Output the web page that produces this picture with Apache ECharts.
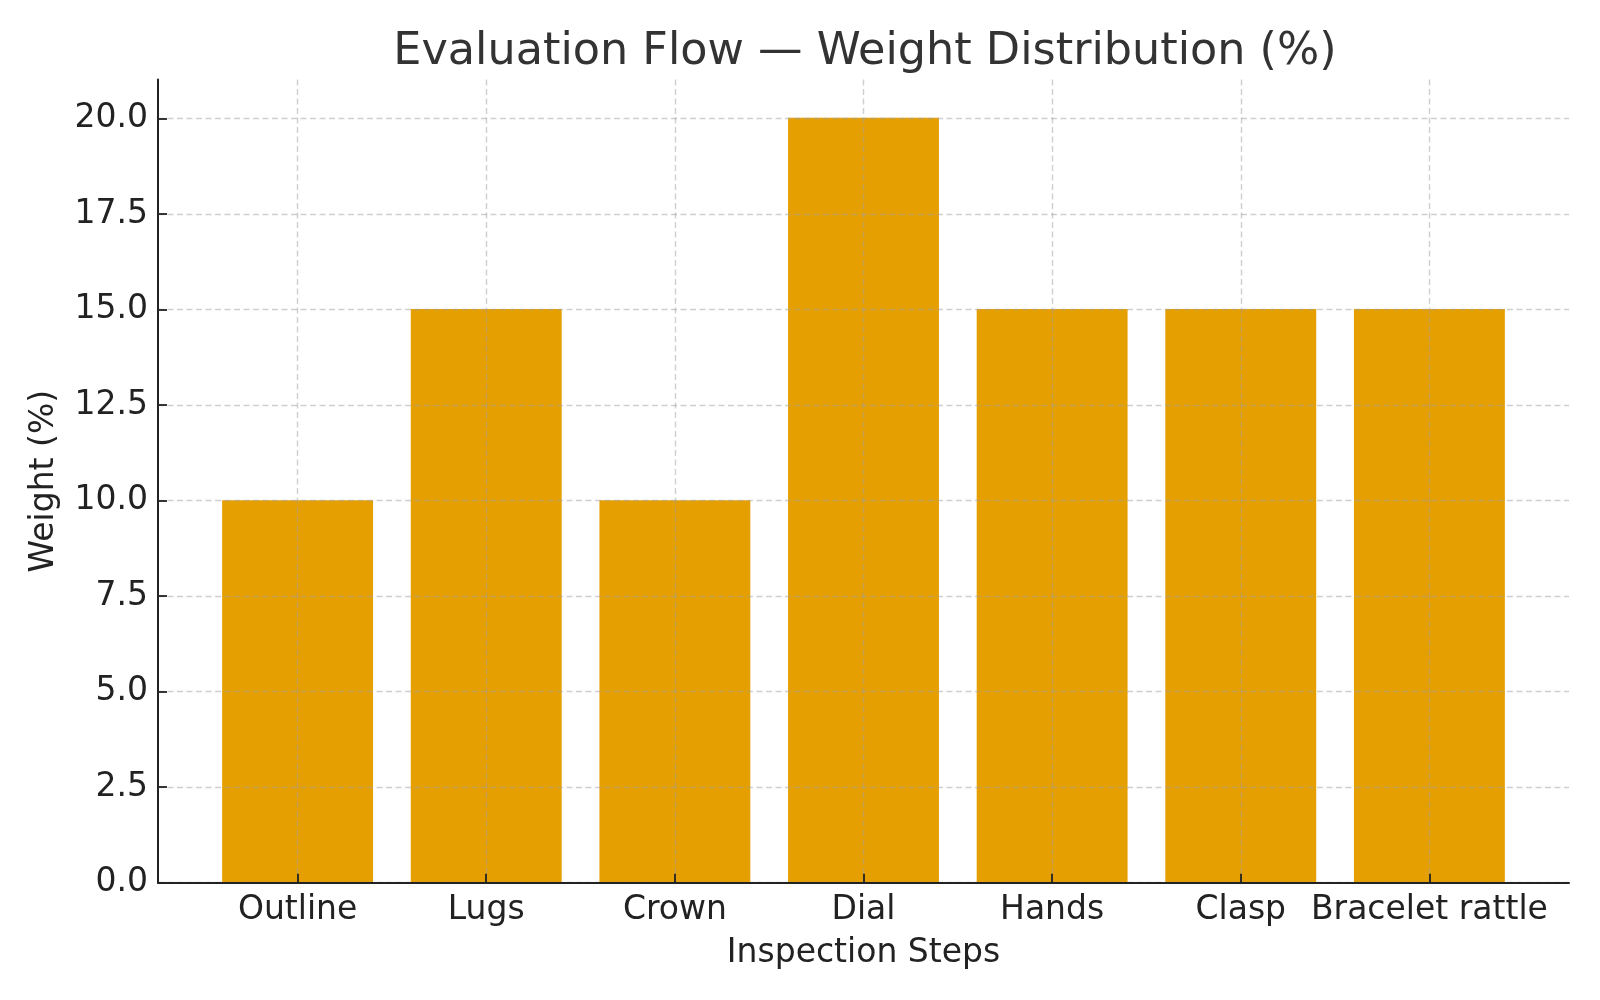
<!DOCTYPE html>
<html>
<head>
<meta charset="utf-8">
<script src="https://cdn.jsdelivr.net/npm/echarts@6/dist/echarts.min.js"></script>
<style>html,body{margin:0;padding:0;background:#fff}#c{width:1600px;height:1000px}</style>
</head>
<body>
<div id="c"></div>
<script>
const categories = ['Outline', 'Lugs', 'Crown', 'Dial', 'Hands', 'Clasp', 'Bracelet rattle'];
const weights = [10, 15, 10, 20, 15, 15, 15];
const yTicks = { min: 0, max: 20, interval: 2.5 };
const yAxisTop = 21;

const FONT = 'DejaVu Sans';
const INK = '#222222';
const gridLine = { show: true, lineStyle: { color: 'rgba(160,160,160,0.5)', type: [6, 3.5], width: 1.4 } };

const chart = echarts.init(document.getElementById('c'), null, { renderer: 'canvas' });
chart.setOption({
  backgroundColor: '#ffffff',
  animation: false,
  title: {
    text: 'Evaluation Flow — Weight Distribution (%)',
    left: 860, textAlign: 'center', top: 25,
    textStyle: { fontFamily: FONT, fontSize: 44.5, fontWeight: 'normal', color: '#333333' }
  },
  grid: [
    { left: 158, right: 31, top: 79.6, bottom: 117.3 },
    { left: 158, right: 31, top: 118.4, bottom: 117.3 },
    { left: 297.6, right: 170.6, top: 79.6, bottom: 117.3 }
  ],
  xAxis: [
    { gridIndex: 0, type: 'value', min: 0, max: 1, z: 4,
      axisLine: { show: true, lineStyle: { color: INK, width: 2 } },
      axisTick: { show: false }, axisLabel: { show: false }, splitLine: { show: false },
      name: 'Inspection Steps', nameLocation: 'middle', nameGap: 54,
      nameTextStyle: { fontFamily: FONT, fontSize: 33, color: INK } },
    { gridIndex: 1, type: 'value', min: 0, max: 1, show: false },
    { gridIndex: 2, type: 'category', data: categories, boundaryGap: false, z: 3,
      axisLine: { show: false },
      axisTick: { show: true, inside: true, length: 9, lineStyle: { color: INK, width: 1.8 } },
      axisLabel: { margin: 11, fontFamily: FONT, fontSize: 33, color: INK, interval: 0 },
      splitLine: gridLine }
  ],
  yAxis: [
    { gridIndex: 0, type: 'value', min: 0, max: yAxisTop, z: 4,
      axisLine: { show: true, lineStyle: { color: INK, width: 2 } },
      axisTick: { show: false }, axisLabel: { show: false }, splitLine: { show: false },
      name: 'Weight (%)', nameLocation: 'middle', nameGap: 97,
      nameTextStyle: { fontFamily: FONT, fontSize: 33, color: INK } },
    { gridIndex: 1, type: 'value', min: yTicks.min, max: yTicks.max, interval: yTicks.interval, z: 3,
      axisLine: { show: false },
      axisTick: { show: true, inside: true, length: 9, lineStyle: { color: INK, width: 1.8 } },
      axisLabel: { margin: 10, fontFamily: FONT, fontSize: 33, color: INK, formatter: v => v.toFixed(1) },
      splitLine: gridLine },
    { gridIndex: 2, type: 'value', min: 0, max: yAxisTop, show: false }
  ],
  series: [{
    type: 'bar', xAxisIndex: 2, yAxisIndex: 2, z: 1,
    data: weights, barWidth: '80%',
    itemStyle: { color: '#E69F00' }
  }]
});
</script>
</body>
</html>
